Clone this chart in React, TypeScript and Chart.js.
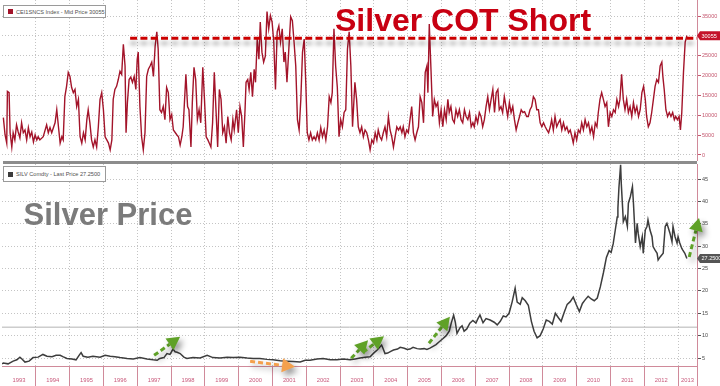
import React, { useEffect, useRef } from "react";
import { Chart, registerables } from "chart.js";

Chart.register(...registerables);

const FONT = '"Liberation Sans", Arial, sans-serif';

// ---- axis data ----
const xMin = 1993;
const xMax = 2013.56;
const yearLabels = [1993, 1994, 1995, 1996, 1997, 1998, 1999, 2000, 2001, 2002, 2003, 2004, 2005, 2006, 2007, 2008, 2009, 2010, 2011, 2012, 2013];
const yearBoundaries = [1994, 1995, 1996, 1997, 1998, 1999, 2000, 2001, 2002, 2003, 2004, 2005, 2006, 2007, 2008, 2009, 2010, 2011, 2012, 2013];
const cotTicks = [0, 5000, 10000, 15000, 20000, 25000, 30000, 35000];
const priceTicks = [5, 10, 15, 20, 25, 30, 35, 40, 45];

// ---- CEI1SNCS Index (silver COT short) ----
const cotDates = [
  1993.04, 1993.09, 1993.14, 1993.16, 1993.21, 1993.24, 1993.29, 1993.33, 1993.38, 1993.43, 1993.48, 1993.53, 1993.58, 1993.63, 1993.68, 1993.73, 1993.78, 1993.83, 1993.88, 1993.93, 1993.98,
  1994.03, 1994.07, 1994.12, 1994.22, 1994.32, 1994.37, 1994.42, 1994.47, 1994.57, 1994.62, 1994.67, 1994.72, 1994.77, 1994.81, 1994.86, 1994.91, 1994.96,
  1995.01, 1995.06, 1995.11, 1995.16, 1995.21, 1995.26, 1995.31, 1995.36, 1995.41, 1995.46, 1995.51, 1995.55, 1995.60, 1995.65, 1995.70, 1995.75, 1995.80, 1995.85, 1995.90, 1995.95,
  1996.00, 1996.05, 1996.10, 1996.15, 1996.20, 1996.25, 1996.29, 1996.34, 1996.39, 1996.44, 1996.49, 1996.54, 1996.59, 1996.64, 1996.67, 1996.71, 1996.76, 1996.81, 1996.86, 1996.91, 1996.96,
  1997.00, 1997.03, 1997.08, 1997.13, 1997.18, 1997.23, 1997.28, 1997.33, 1997.38, 1997.43, 1997.48, 1997.53, 1997.58, 1997.62, 1997.67, 1997.72, 1997.77, 1997.82, 1997.87, 1997.92, 1997.97,
  1998.02, 1998.07, 1998.17, 1998.22, 1998.27, 1998.32, 1998.36, 1998.44, 1998.49, 1998.53, 1998.59, 1998.63, 1998.68, 1998.73, 1998.78, 1998.83, 1998.88, 1998.94, 1998.99,
  1999.04, 1999.09, 1999.13, 1999.18, 1999.23, 1999.28, 1999.33, 1999.38, 1999.43, 1999.48, 1999.53, 1999.58, 1999.63, 1999.68, 1999.73, 1999.78, 1999.83, 1999.87, 1999.94, 1999.99,
  2000.04, 2000.09, 2000.14, 2000.19, 2000.22, 2000.27, 2000.31, 2000.36, 2000.41, 2000.46, 2000.50, 2000.55, 2000.60, 2000.64, 2000.69, 2000.74, 2000.79, 2000.84, 2000.89, 2000.94, 2000.99,
  2001.04, 2001.09, 2001.14, 2001.19, 2001.24, 2001.29, 2001.34, 2001.38, 2001.43, 2001.48, 2001.54, 2001.59, 2001.64, 2001.69, 2001.74, 2001.79, 2001.84, 2001.89, 2001.94, 2001.99,
  2002.03, 2002.08, 2002.13, 2002.18, 2002.23, 2002.28, 2002.33, 2002.38, 2002.43, 2002.48, 2002.53, 2002.58, 2002.63, 2002.68, 2002.73, 2002.77, 2002.82, 2002.87, 2002.92, 2002.97,
  2003.02, 2003.07, 2003.12, 2003.17, 2003.22, 2003.27, 2003.32, 2003.37, 2003.44, 2003.49, 2003.54, 2003.59, 2003.64, 2003.69, 2003.74, 2003.79, 2003.84, 2003.89, 2003.94, 2003.99,
  2004.04, 2004.09, 2004.13, 2004.18, 2004.23, 2004.28, 2004.33, 2004.38, 2004.43, 2004.48, 2004.53, 2004.58, 2004.63, 2004.68, 2004.73, 2004.78, 2004.83, 2004.87, 2004.92, 2004.97,
  2005.02, 2005.07, 2005.12, 2005.17, 2005.22, 2005.27, 2005.32, 2005.37, 2005.42, 2005.47, 2005.52, 2005.57, 2005.60, 2005.64, 2005.69, 2005.74, 2005.79, 2005.84, 2005.89, 2005.94, 2005.99,
  2006.04, 2006.09, 2006.14, 2006.19, 2006.23, 2006.28, 2006.33, 2006.38, 2006.43, 2006.48, 2006.53, 2006.58, 2006.63, 2006.68, 2006.73, 2006.78, 2006.83, 2006.88, 2006.93, 2006.97,
  2007.02, 2007.07, 2007.12, 2007.17, 2007.22, 2007.27, 2007.32, 2007.37, 2007.42, 2007.47, 2007.52, 2007.57, 2007.62, 2007.67, 2007.71, 2007.76, 2007.81, 2007.86, 2007.91, 2007.96,
  2008.01, 2008.06, 2008.11, 2008.16, 2008.21, 2008.26, 2008.31, 2008.36, 2008.41, 2008.46, 2008.52, 2008.57, 2008.62, 2008.67, 2008.72, 2008.77, 2008.82, 2008.87, 2008.92, 2008.97,
  2009.02, 2009.07, 2009.12, 2009.17, 2009.22, 2009.26, 2009.31, 2009.36, 2009.41, 2009.46, 2009.51, 2009.56, 2009.61, 2009.66, 2009.71, 2009.76, 2009.81, 2009.86, 2009.90, 2009.95,
  2010.00, 2010.05, 2010.10, 2010.15, 2010.20, 2010.25, 2010.30, 2010.35, 2010.40, 2010.45, 2010.50, 2010.55, 2010.60, 2010.64, 2010.69, 2010.74, 2010.79, 2010.84, 2010.89, 2010.94, 2010.99,
  2011.04, 2011.09, 2011.14, 2011.19, 2011.24, 2011.28, 2011.33, 2011.38, 2011.43, 2011.48, 2011.53, 2011.58, 2011.63, 2011.68, 2011.73, 2011.78, 2011.83, 2011.88, 2011.93, 2011.98,
  2012.03, 2012.07, 2012.12, 2012.17, 2012.22, 2012.27, 2012.32, 2012.37, 2012.42, 2012.47, 2012.52, 2012.55, 2012.59, 2012.64, 2012.69, 2012.74, 2012.79, 2012.84, 2012.89, 2012.93, 2012.98,
  2013.03, 2013.07, 2013.11, 2013.16, 2013.21, 2013.26,
];
const cotValues = [
  9400, 5100, 3000, 16000, 15700, 5600, 2000, 5600, 3800, 7600, 5800, 4300, 8100, 5600, 6300, 3800, 6900, 4600, 5800, 3300, 5100,
  3800, 4600, 3800, 4600, 7600, 5600, 6900, 5600, 8100, 11400, 7100, 3000, 4600, 3800, 14700, 17300, 20800,
  19800, 17000, 15700, 16500, 12200, 14000, 4600, 3000, 5600, 3800, 8900, 11400, 8100, 3800, 2000, 3800, 2000, 7100, 14000, 15700,
  11400, 4600, 3800, 3000, 1300, 3800, 14000, 16500, 17300, 19000, 21100, 20300, 27900, 22400, 5600, 13200, 19000, 19600, 18300, 19800, 16500,
  24100, 25900, 12200, 4600, 1300, 5600, 19800, 21600, 22400, 23400, 19800, 27400, 31000, 26700, 11400, 10700, 12200, 8900, 17000, 15700, 8900,
  10200, 6300, 5100, 4600, 2500, 4600, 7100, 20300, 12200, 11400, 2000, 13200, 22100, 19000, 8900, 11400, 8100, 22100, 14000,
  4600, 3800, 3000, 2000, 8100, 20800, 11400, 2000, 16500, 14000, 5600, 7100, 3000, 9700, 5600, 3800, 8900, 6300, 11400, 5600,
  12200, 9700, 2000, 11400, 18300, 19000, 16500, 20800, 14700, 21600, 18300, 29200, 24100, 33500, 25900, 23400, 24900, 36100, 31800, 35100, 33500,
  28400, 16500, 31000, 32500, 28400, 31800, 23400, 25900, 18300, 25900, 34800, 33800, 28400, 22400, 8900, 6300, 14000, 25900, 29200, 17300,
  5600, 3800, 5600, 3800, 4600, 3800, 5600, 3800, 6900, 4600, 6300, 3800, 7100, 14700, 13200, 15700, 31800, 22400, 17000, 4600,
  8900, 7100, 10700, 11400, 26700, 31000, 22400, 7100, 18300, 14000, 7100, 5600, 7100, 4600, 6300, 5600, 3800, 1300, 3800, 3000,
  5600, 3800, 6300, 4600, 3800, 5600, 7100, 4600, 9700, 6300, 4600, 2000, 4600, 7100, 6300, 7100, 5600, 7100, 4600, 6300,
  5600, 8900, 12200, 5600, 3800, 5600, 7100, 14700, 13200, 8100, 20800, 22400, 15700, 33000, 21600, 9700, 14000, 12200, 13200, 8100, 11400,
  7100, 11400, 8900, 14000, 10700, 12200, 8900, 8100, 11400, 9700, 11400, 8900, 8100, 11400, 9700, 8900, 10700, 7100, 8100, 7100,
  9700, 8100, 10700, 9700, 7100, 8900, 12200, 14700, 11400, 14000, 16500, 10700, 15700, 16500, 11400, 12200, 10700, 14700, 12200, 9700,
  13200, 10700, 12200, 8900, 6300, 8100, 9700, 11400, 10700, 10900, 9700, 9700, 11400, 12200, 14700, 14000, 11400, 11400, 8100, 7100,
  8100, 7100, 6300, 5600, 7100, 8900, 6300, 9700, 7100, 8100, 8900, 6300, 8100, 6300, 7100, 5600, 6300, 4600, 3000, 5600,
  3800, 6300, 5600, 8100, 6300, 8900, 7100, 8100, 5600, 7100, 4600, 8100, 7100, 10700, 14000, 15700, 14000, 12200, 13200, 7100, 10700,
  9700, 11400, 10700, 14000, 12200, 14000, 20300, 14000, 11400, 14000, 10700, 12200, 9700, 13200, 10700, 12200, 9700, 11400, 15700, 17300,
  14000, 9700, 7100, 8100, 10700, 14000, 17300, 19000, 18300, 22400, 23400, 19800, 16500, 11400, 9700, 10700, 9700, 10700, 8900, 9700, 8900,
  9700, 6300, 10700, 20800, 28400, 30055,
];
const cotLevelFrom = 1996.79;
const cotLevel = 29400;

// ---- SILV Comdty (silver price) ----
const priceDates = [
  1993.00, 1993.04, 1993.18, 1993.33, 1993.44, 1993.53, 1993.59, 1993.68, 1993.80, 1993.92,
  1994.07, 1994.21, 1994.33, 1994.48, 1994.60, 1994.72, 1994.80, 1994.92,
  1995.07, 1995.19, 1995.28, 1995.34, 1995.40, 1995.54, 1995.69, 1995.90,
  1996.05, 1996.20, 1996.34, 1996.49, 1996.70, 1996.88,
  1997.08, 1997.29, 1997.47, 1997.59, 1997.67, 1997.79, 1997.88, 1997.97,
  1998.06, 1998.12, 1998.18, 1998.27, 1998.38, 1998.47, 1998.65, 1998.86,
  1999.07, 1999.24, 1999.45, 1999.66, 1999.84,
  2000.04, 2000.25, 2000.43, 2000.63, 2000.84,
  2001.02, 2001.23, 2001.43, 2001.61, 2001.82, 2001.97,
  2002.11, 2002.32, 2002.50, 2002.71, 2002.91,
  2003.09, 2003.30, 2003.45, 2003.59, 2003.74, 2003.89,
  2004.01, 2004.10, 2004.23, 2004.27, 2004.33, 2004.41, 2004.50, 2004.58, 2004.70, 2004.78, 2004.90, 2004.99,
  2005.07, 2005.16, 2005.28, 2005.37, 2005.49, 2005.57, 2005.66, 2005.75, 2005.84, 2005.96,
  2006.04, 2006.14, 2006.23, 2006.29, 2006.36, 2006.41, 2006.46, 2006.55, 2006.61, 2006.67, 2006.75, 2006.84, 2006.93,
  2007.02, 2007.08, 2007.14, 2007.23, 2007.32, 2007.44, 2007.56, 2007.65, 2007.74, 2007.83, 2007.91,
  2008.00, 2008.09, 2008.18, 2008.24, 2008.33, 2008.39, 2008.48, 2008.57, 2008.66, 2008.74, 2008.83, 2008.92,
  2009.01, 2009.10, 2009.19, 2009.28, 2009.37, 2009.46, 2009.54, 2009.63, 2009.72, 2009.81, 2009.90, 2009.99,
  2010.08, 2010.17, 2010.25, 2010.34, 2010.43, 2010.52, 2010.61, 2010.70, 2010.79, 2010.88, 2010.96,
  2011.02, 2011.08, 2011.14, 2011.20, 2011.22, 2011.25, 2011.30, 2011.32, 2011.36, 2011.38, 2011.44, 2011.50, 2011.53, 2011.59, 2011.65, 2011.68, 2011.74, 2011.79, 2011.82, 2011.88, 2011.94, 2011.97,
  2012.03, 2012.08, 2012.11, 2012.17, 2012.23, 2012.26, 2012.32, 2012.38, 2012.41, 2012.47, 2012.56, 2012.62, 2012.67, 2012.76, 2012.82, 2012.85, 2012.91, 2012.97,
  2013.00, 2013.05, 2013.11, 2013.14, 2013.20, 2013.26,
];
const priceValues = [
  3.7, 3.9, 3.7, 4.3, 4.6, 5.2, 4.8, 4.1, 4.3, 5.1,
  5.2, 5.8, 5.4, 5.3, 5.6, 5.6, 5.3, 4.9,
  4.8, 4.6, 5.6, 6.2, 5.4, 5.2, 5.4, 5.2,
  5.6, 5.4, 5.3, 5.1, 4.9, 4.8,
  5.1, 4.8, 4.6, 4.5, 4.9, 5.1, 6.0, 5.8,
  7.0, 6.4, 6.3, 6.0, 5.2, 4.9, 5.1, 5.0,
  5.6, 5.1, 5.0, 5.2, 5.1,
  5.2, 5.0, 4.9, 4.9, 4.7,
  4.6, 4.4, 4.3, 4.2, 4.1, 4.5,
  4.5, 4.8, 4.9, 4.6, 4.6,
  4.8, 4.6, 4.8, 5.0, 5.2, 5.3,
  6.2, 6.8, 7.9, 7.2, 6.0, 6.1, 6.5, 6.8, 7.0, 7.4, 7.2, 6.9,
  7.0, 7.4, 7.1, 7.0, 7.1, 6.9, 7.2, 7.6, 8.0, 8.8,
  9.3, 10.0, 11.0, 12.8, 14.6, 13.0, 10.5, 11.8, 12.2, 11.0, 11.5, 12.8, 13.4,
  12.8, 13.8, 14.6, 12.9, 13.8, 13.5, 13.0, 12.4, 13.2, 14.4, 14.2,
  15.0, 17.5, 20.6, 17.5, 17.0, 18.5, 17.8, 16.8, 13.2, 11.0, 9.5, 10.0,
  11.5, 13.5, 13.2, 12.6, 15.0, 14.0, 13.2, 15.2, 17.0, 17.6, 18.6, 16.9,
  15.4, 17.2, 18.0, 18.8, 18.2, 17.8, 18.4, 20.9, 24.0, 27.5, 29.0,
  28.6, 30.5, 33.5, 36.5, 38.5, 43.0, 48.2, 44.0, 38.5, 35.5, 36.6, 34.4, 39.6, 41.1, 43.3, 39.6, 30.7, 35.1, 32.9, 29.9, 32.1, 28.4,
  33.6, 34.4, 35.9, 33.6, 32.1, 29.9, 29.1, 28.4, 26.9, 27.6, 28.4, 34.4, 35.1, 32.9, 31.0, 34.4, 32.1, 30.7,
  32.1, 30.7, 29.5, 29.1, 28.4, 27.25,
];
const priceRefLevel = 11.9;

// ---- hand-drawn trend arrows (data coordinates: [year, price]) ----
const trendArrows = [
  { from: [1997.5, 5.61], to: [1998.27, 9.75], kind: "up" },
  { from: [2000.34, 4.26], to: [2001.67, 3.03], kind: "down" },
  { from: [2003.33, 4.93], to: [2003.83, 8.97], kind: "up" },
  { from: [2003.68, 6.28], to: [2004.3, 9.87], kind: "up" },
  { from: [2005.63, 8.3], to: [2006.25, 14.24], kind: "up" },
  { from: [2013.33, 27.58], to: [2013.62, 36.32], kind: "up" },
];

const RED_LINE = "#a3142a";
const PRICE_LINE = "#3d3d3d";
const GRID = "#c4c4c4";
const AXIS_PINK = "#d08a9a";

function drawArrow(ctx: CanvasRenderingContext2D, x0: number, y0: number, x1: number, y1: number, color: string) {
  const ang = Math.atan2(y1 - y0, x1 - x0);
  const c = Math.cos(ang);
  const s = Math.sin(ang);
  const headLen = 13;
  const headW = 7;
  const bx = x1 - headLen * c;
  const by = y1 - headLen * s;
  ctx.save();
  ctx.shadowColor = "rgba(0,0,0,0.45)";
  ctx.shadowBlur = 6;
  ctx.shadowOffsetX = 3;
  ctx.shadowOffsetY = 4;
  ctx.strokeStyle = color;
  ctx.lineWidth = 3;
  ctx.setLineDash([5, 3]);
  ctx.beginPath();
  ctx.moveTo(x0, y0);
  ctx.lineTo(bx, by);
  ctx.stroke();
  ctx.setLineDash([]);
  ctx.fillStyle = color;
  ctx.beginPath();
  ctx.moveTo(x1, y1);
  ctx.lineTo(bx + headW * s, by - headW * c);
  ctx.lineTo(bx - headW * s, by + headW * c);
  ctx.closePath();
  ctx.fill();
  ctx.restore();
}

function valueBoxPlugin(id: string, value: number, text: string, fill: string) {
  return {
    id,
    afterDraw(chart: any) {
      const { ctx, chartArea } = chart;
      const py = chart.scales.y.getPixelForValue(value);
      ctx.save();
      ctx.font = `5.5px ${FONT}`;
      const w = ctx.measureText(text).width + 5;
      const x0 = chartArea.right;
      const h = 4.5;
      ctx.fillStyle = fill;
      ctx.beginPath();
      ctx.moveTo(x0, py);
      ctx.lineTo(x0 + 3, py - h);
      ctx.lineTo(x0 + 3 + w, py - h);
      ctx.lineTo(x0 + 3 + w, py + h);
      ctx.lineTo(x0 + 3, py + h);
      ctx.closePath();
      ctx.fill();
      ctx.fillStyle = "#ffffff";
      ctx.textAlign = "left";
      ctx.textBaseline = "middle";
      ctx.fillText(text, x0 + 4.5, py + 0.5);
      ctx.restore();
    },
  };
}

export default function App() {
  const topRef = useRef<HTMLCanvasElement>(null);
  const botRef = useRef<HTMLCanvasElement>(null);

  useEffect(() => {
    const lastCot = cotValues[cotValues.length - 1];
    const lastPrice = priceValues[priceValues.length - 1];

    const shadowPlugin = {
      id: "dashShadow",
      beforeDatasetDraw(chart: any, args: any) {
        if (args.index === 1) {
          const c = chart.ctx;
          c.save();
          c.shadowColor = "rgba(0,0,0,0.35)";
          c.shadowBlur = 4;
          c.shadowOffsetY = 5;
        }
      },
      afterDatasetDraw(chart: any, args: any) {
        if (args.index === 1) chart.ctx.restore();
      },
    };

    const top = new Chart(topRef.current!, {
      type: "line",
      data: {
        datasets: [
          {
            data: cotDates.map((x, i) => ({ x, y: cotValues[i] })),
            borderColor: RED_LINE,
            borderWidth: 1.4,
            pointRadius: 0,
            tension: 0,
            order: 1,
          },
          {
            data: [
              { x: cotLevelFrom, y: cotLevel },
              { x: xMax, y: cotLevel },
            ],
            borderColor: "#cc0000",
            borderWidth: 3,
            borderDash: [7, 3.3],
            pointRadius: 0,
            order: 0,
          },
        ],
      },
      options: {
        animation: false,
        responsive: false,
        maintainAspectRatio: false,
        layout: { padding: { left: 2, top: 0, right: 0, bottom: 0 } },
        plugins: { legend: { display: false }, tooltip: { enabled: false } },
        scales: {
          x: {
            type: "linear",
            min: xMin,
            max: xMax,
            afterBuildTicks: (s: any) => {
              s.ticks = yearBoundaries.map((value) => ({ value }));
            },
            ticks: { display: false },
            grid: { color: GRID, drawTicks: false },
            border: { display: false, dash: [1, 2] },
            afterFit: (s: any) => {
              s.height = 0;
              s.paddingLeft = 0;
              s.paddingRight = 0;
            },
          },
          y: {
            position: "right",
            min: -1511,
            max: 39030,
            afterBuildTicks: (s: any) => {
              s.ticks = cotTicks.map((value) => ({ value }));
            },
            ticks: {
              color: "#c4566e",
              font: { family: FONT, size: 5.5 },
              padding: 1,
              autoSkip: false,
              callback: (v: any) => String(v),
            },
            grid: { color: GRID, tickLength: 4, tickColor: "#c4566e" },
            border: { color: AXIS_PINK, dash: [1, 2] },
            afterFit: (s: any) => {
              s.width = 23;
              s.paddingTop = 0;
              s.paddingBottom = 0;
            },
          },
        },
      },
      plugins: [shadowPlugin, valueBoxPlugin("cotBox", lastCot, String(lastCot), "#c4122a")],
    } as any);

    const yearPlugin = {
      id: "yearLabels",
      afterDraw(chart: any) {
        const { ctx, chartArea } = chart;
        const xs = chart.scales.x;
        ctx.save();
        ctx.font = `5.8px ${FONT}`;
        ctx.fillStyle = "#c8587a";
        ctx.textAlign = "center";
        ctx.textBaseline = "middle";
        yearLabels.forEach((yr, i) => {
          const next = i < yearLabels.length - 1 ? yearLabels[i + 1] : xMax;
          const px = xs.getPixelForValue((yr + Math.min(next, xMax)) / 2);
          ctx.fillText(String(yr), px, chartArea.bottom + 14);
        });
        ctx.restore();
      },
    };

    const arrowPlugin = {
      id: "trendArrows",
      afterDatasetsDraw(chart: any) {
        const { ctx } = chart;
        const xs = chart.scales.x;
        const ys = chart.scales.y;
        trendArrows.forEach((a) => {
          drawArrow(
            ctx,
            xs.getPixelForValue(a.from[0]),
            ys.getPixelForValue(a.from[1]),
            xs.getPixelForValue(a.to[0]),
            ys.getPixelForValue(a.to[1]),
            a.kind === "up" ? "#5fa127" : "#f4a04c"
          );
        });
      },
    };

    const bot = new Chart(botRef.current!, {
      type: "line",
      data: {
        datasets: [
          {
            data: priceDates.map((x, i) => ({ x, y: priceValues[i] })),
            borderColor: PRICE_LINE,
            borderWidth: 1.5,
            pointRadius: 0,
            tension: 0,
            order: 0,
          },
          {
            data: [
              { x: xMin, y: priceRefLevel },
              { x: xMax, y: priceRefLevel },
            ],
            borderColor: "#b4b4b4",
            borderWidth: 1,
            pointRadius: 0,
            order: 1,
          },
        ],
      },
      options: {
        animation: false,
        responsive: false,
        maintainAspectRatio: false,
        layout: { padding: { left: 2, top: 0, right: 0, bottom: 0 } },
        plugins: { legend: { display: false }, tooltip: { enabled: false } },
        scales: {
          x: {
            type: "linear",
            min: xMin,
            max: xMax,
            afterBuildTicks: (s: any) => {
              s.ticks = [...yearBoundaries, xMax].map((value) => ({ value }));
            },
            ticks: { display: false },
            grid: { color: GRID, tickLength: 20, tickColor: AXIS_PINK },
            border: { color: AXIS_PINK, dash: [1, 2] },
            afterFit: (s: any) => {
              s.height = 20;
              s.paddingLeft = 0;
              s.paddingRight = 0;
            },
          },
          y: {
            position: "right",
            min: 3.22,
            max: 48.36,
            afterBuildTicks: (s: any) => {
              s.ticks = priceTicks.map((value) => ({ value }));
            },
            ticks: {
              color: "#4a4a4a",
              font: { family: FONT, size: 5.5 },
              padding: 1,
              autoSkip: false,
              callback: (v: any) => String(v),
            },
            grid: { color: GRID, tickLength: 4, tickColor: "#555555" },
            border: { color: AXIS_PINK, dash: [1, 2] },
            afterFit: (s: any) => {
              s.width = 23;
              s.paddingTop = 0;
              s.paddingBottom = 0;
            },
          },
        },
      },
      plugins: [arrowPlugin, yearPlugin, valueBoxPlugin("priceBox", lastPrice, lastPrice.toFixed(4), "#555555")],
    } as any);

    return () => {
      top.destroy();
      bot.destroy();
    };
  }, []);

  const lastCot = cotValues[cotValues.length - 1];
  const lastPrice = priceValues[priceValues.length - 1];

  const legendBox: React.CSSProperties = {
    position: "absolute",
    left: 3,
    width: 103,
    boxSizing: "border-box",
    border: "1px solid #9a9a9a",
    background: "#ffffff",
    display: "flex",
    alignItems: "center",
    paddingLeft: 4,
    font: `5.6px ${FONT}`,
    color: "#505050",
    whiteSpace: "nowrap",
  };

  return (
    <div style={{ position: "absolute", left: 0, top: 0, width: 720, height: 386, background: "#ffffff", overflow: "hidden" }}>
      <canvas ref={topRef} width={720} height={161} style={{ position: "absolute", left: 0, top: 0, width: 720, height: 161 }} />
      <div style={{ position: "absolute", left: 3, top: 161, width: 694, height: 3, background: "#8c8c8c" }} />
      <canvas ref={botRef} width={720} height={222} style={{ position: "absolute", left: 0, top: 164, width: 720, height: 222 }} />

      <div style={{ ...legendBox, top: 5, height: 13 }}>
        <span style={{ display: "inline-block", width: 5, height: 5, background: RED_LINE, marginRight: 3 }} />
        <span>{`CEI1SNCS Index - Mid Price ${lastCot}`}</span>
      </div>
      <div style={{ ...legendBox, top: 166, height: 16 }}>
        <span style={{ display: "inline-block", width: 5, height: 5, background: "#3c3c3c", marginRight: 3 }} />
        <span>{`SILV Comdty - Last Price ${lastPrice.toFixed(4)}`}</span>
      </div>

      <div
        style={{
          position: "absolute",
          left: 335,
          top: 4,
          font: `bold 32px ${FONT}`,
          lineHeight: "32px",
          color: "#c80012",
          whiteSpace: "nowrap",
        }}
      >
        Silver COT Short
      </div>
      <div
        style={{
          position: "absolute",
          left: 23.5,
          top: 199,
          font: `bold 31px ${FONT}`,
          lineHeight: "31px",
          color: "#7b7b7b",
          whiteSpace: "nowrap",
        }}
      >
        Silver Price
      </div>
    </div>
  );
}
